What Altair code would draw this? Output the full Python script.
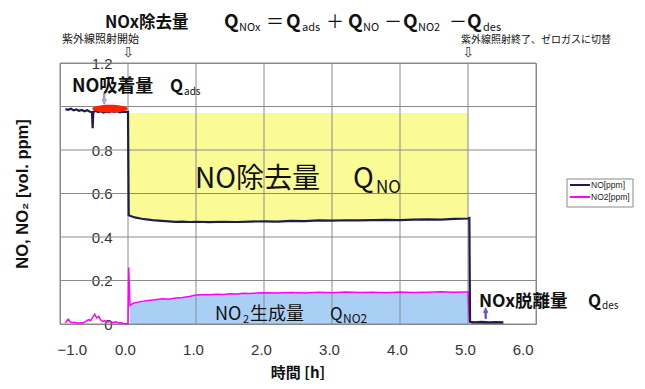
import altair as alt
import pandas as pd

# ---------------- data ----------------
no_t = [-0.92, -0.88, -0.84, -0.80, -0.76, -0.72, -0.68, -0.64, -0.60, -0.56,
        -0.53, -0.52, -0.51, -0.48, -0.44, -0.40, -0.36, -0.32, -0.28, -0.24,
        -0.20, -0.16, -0.12, -0.08, -0.04, 0.00, 0.01, 0.05, 0.10, 0.20,
        0.30, 0.40, 0.50, 0.60, 0.70, 0.80, 0.90, 1.00, 1.20, 1.40,
        1.60, 1.80, 2.00, 2.20, 2.40, 2.60, 2.80, 3.00, 3.20, 3.40,
        3.60, 3.80, 4.00, 4.20, 4.40, 4.60, 4.80, 5.00, 5.02, 5.03,
        5.10, 5.20, 5.30, 5.40, 5.52]
no_v = [0.988, 0.985, 0.990, 0.982, 0.986, 0.980, 0.984, 0.978, 0.983, 0.976,
        0.975, 0.900, 0.975, 0.980, 0.974, 0.978, 0.972, 0.976, 0.974, 0.978,
        0.975, 0.978, 0.973, 0.976, 0.975, 0.975, 0.500, 0.495, 0.490, 0.484,
        0.480, 0.476, 0.474, 0.472, 0.470, 0.471, 0.469, 0.470, 0.468, 0.470,
        0.469, 0.471, 0.472, 0.471, 0.474, 0.473, 0.476, 0.475, 0.477, 0.476,
        0.478, 0.479, 0.478, 0.480, 0.481, 0.480, 0.483, 0.485, 0.487, 0.010,
        0.008, 0.010, 0.008, 0.009, 0.008]

no2_t = [-0.92, -0.88, -0.85, -0.82, -0.78, -0.74, -0.70, -0.66, -0.62, -0.58,
         -0.55, -0.52, -0.49, -0.46, -0.43, -0.40, -0.37, -0.34, -0.30, -0.26,
         -0.22, -0.18, -0.14, -0.10, -0.06, -0.02, 0.00, 0.01, 0.03, 0.06,
         0.10, 0.15, 0.20, 0.30, 0.40, 0.50, 0.60, 0.70, 0.80, 0.90,
         1.00, 1.10, 1.20, 1.30, 1.40, 1.50, 1.60, 1.70, 1.80, 1.90,
         2.00, 2.20, 2.40, 2.60, 2.80, 3.00, 3.20, 3.40, 3.60, 3.80,
         4.00, 4.20, 4.40, 4.60, 4.80, 4.95, 5.00, 5.02, 5.06, 5.15,
         5.25, 5.35, 5.45, 5.52]
no2_v = [0.005, 0.022, 0.010, 0.006, 0.008, 0.004, 0.006, 0.005, 0.012, 0.020,
         0.015, 0.030, 0.045, 0.028, 0.035, 0.018, 0.012, 0.016, 0.008, 0.012,
         0.006, 0.010, 0.005, 0.006, 0.002, 0.001, 0.002, 0.260, 0.085, 0.092,
         0.098, 0.100, 0.104, 0.108, 0.112, 0.116, 0.114, 0.119, 0.122, 0.126,
         0.133, 0.135, 0.134, 0.137, 0.136, 0.139, 0.138, 0.141, 0.140, 0.143,
         0.144, 0.142, 0.145, 0.143, 0.146, 0.144, 0.147, 0.145, 0.146, 0.144,
         0.147, 0.145, 0.146, 0.148, 0.146, 0.147, 0.147, 0.010, 0.004, 0.006,
         0.004, 0.005, 0.004, 0.004]

x_ticks = [-1.0, 0.0, 1.0, 2.0, 3.0, 4.0, 5.0, 6.0]
y_ticks = [0.0, 0.2, 0.4, 0.6, 0.8, 1.0, 1.2]
series_names = ["NO[ppm]", "NO2[ppm]"]
series_colors = ["#1c1c52", "#ff00ff"]

uv_on, uv_off = 0.0, 5.0
removal_top = 0.97
ads_mark = [-0.265, 0.99]
ads_arrow = [-0.35, 1.035]
des_arrow = [5.26, 0.05]

assert len(no_t) == len(no_v) and len(no2_t) == len(no2_v)

JP = "Noto Sans CJK JP"
LAT = "Liberation Sans, Arial, DejaVu Sans"
GRID = "#8a8a8a"

no_df = pd.DataFrame({"t": no_t, "v": no_v, "series": series_names[0]})
no2_df = pd.DataFrame({"t": no2_t, "v": no2_v, "series": series_names[1]})
yellow_df = no_df[(no_df.t > uv_on) & (no_df.t <= uv_off)]
blue_df = no2_df[(no2_df.t >= 0.03) & (no2_df.t <= uv_off)]

xs = alt.Scale(domain=[-1, 6], nice=False)
ys = alt.Scale(domain=[0, 1.2], nice=False)
color = alt.Color("series:N", scale=alt.Scale(domain=series_names, range=series_colors),
                  legend=None)

x_enc = alt.X("t:Q", scale=xs,
              axis=alt.Axis(values=x_ticks, format=".1f", title=None, labelPadding=18,
                            labelOffset=-3))
# the 1.0 label is hidden under the NO trace / red marker in the reference
y_enc = alt.Y("v:Q", scale=ys,
              axis=alt.Axis(values=y_ticks, title=None, labelPadding=-52,
                            labelExpr="datum.value == 0 ? '0' : (datum.value == 1 ? '' : format(datum.value, '.1f'))"))

yellow = alt.Chart(yellow_df).mark_area(color="#fbfb96", opacity=1).encode(
    x=x_enc, y=y_enc, y2=alt.datum(removal_top))
blue = alt.Chart(blue_df).mark_area(color="#aacff5", opacity=1).encode(
    x=alt.X("t:Q", scale=xs), y=alt.Y("v:Q", scale=ys))

# grid lines drawn above the shaded areas
vgrid = alt.Chart(pd.DataFrame({"t": x_ticks})).mark_rule(color=GRID, strokeWidth=1).encode(
    x=alt.X("t:Q", scale=xs))
hgrid = alt.Chart(pd.DataFrame({"v": y_ticks})).mark_rule(color=GRID, strokeWidth=1).encode(
    y=alt.Y("v:Q", scale=ys))

no2_line = alt.Chart(no2_df).mark_line(strokeWidth=1.5).encode(
    x=alt.X("t:Q", scale=xs), y=alt.Y("v:Q", scale=ys), color=color)
no_line = alt.Chart(no_df).mark_line(strokeWidth=2.2).encode(
    x=alt.X("t:Q", scale=xs), y=alt.Y("v:Q", scale=ys), color=color)

dummy = pd.DataFrame({"k": [0]})
ellipse_path = "M -1 0 A 1 0.22 0 1 0 1 0 A 1 0.22 0 1 0 -1 0 Z"
ellipse = alt.Chart(dummy).mark_point(shape=ellipse_path, size=1250, filled=True,
                                      color="#ff2200", opacity=1).encode(
    x=alt.datum(ads_mark[0]), y=alt.datum(ads_mark[1]))
arrow1 = alt.Chart(dummy).mark_point(shape="arrow", angle=180, size=120, filled=True,
                                     fill="#b8b8ee", stroke="#6a6ab8", strokeWidth=0.6,
                                     opacity=1).encode(
    x=alt.datum(ads_arrow[0]), y=alt.datum(ads_arrow[1]))
arrow2 = alt.Chart(dummy).mark_point(shape="arrow", angle=0, size=120, filled=True,
                                     fill="#6262dc", stroke="#3a3aa0", strokeWidth=0.6,
                                     opacity=1).encode(
    x=alt.datum(des_arrow[0]), y=alt.datum(des_arrow[1]))


def txt(s, x, y, size, bold=False, font=JP, baseline="alphabetic", align="left",
        angle=0, col="#111111"):
    xe = x if not isinstance(x, (int, float)) else alt.value(x)
    ye = y if not isinstance(y, (int, float)) else alt.value(y)
    return alt.Chart(dummy).mark_text(
        text=s, fontSize=size, fontWeight="bold" if bold else "normal", font=font,
        baseline=baseline, align=align, angle=angle, color=col).encode(x=xe, y=ye)


texts = []
# top formula title
tb, sb = -35, -32
texts += [
    txt("NOx除去量", 45, tb, 16.5, True),
    txt("Q", 164, tb, 19, True), txt("NOx", 179, sb, 11),
    txt("＝", 206, tb, 18),
    txt("Q", 226, tb, 19, True), txt("ads", 242, sb, 11),
    txt("＋", 266, tb, 18),
    txt("Q", 288, tb, 19, True), txt("NO", 303, sb, 11),
    txt("－", 324, tb, 18),
    txt("Q", 343, tb, 19, True), txt("NO2", 358, sb, 11),
    txt("－", 389, tb, 18),
    txt("Q", 407, tb, 19, True), txt("des", 423, sb, 11),
]
# irradiation notes
texts += [
    txt("紫外線照射開始", 2, -23, 11, baseline="middle"),
    txt("紫外線照射終了、ゼロガスに切替", 401, -23, 10, baseline="middle"),
    txt("⇩", alt.datum(uv_on), -10, 14, font="DejaVu Sans", baseline="middle",
        align="center", col="#333333"),
    txt("⇩", alt.datum(uv_off), -10, 14, font="DejaVu Sans", baseline="middle",
        align="center", col="#333333"),
]
# NO adsorption
texts += [
    txt("NO吸着量", 12, 29, 18, True),
    txt("Q", 110, 29, 17, True), txt("ads", 124, 32, 10),
]
# NO removal
texts += [
    txt("NO除去量", 135, 125, 28),
    txt("Q", 293, 125, 28), txt("NO", 316, 130, 17),
]
# NO2 formation
texts += [
    txt("NO", 155, 257, 18), txt("2", 183, 260, 11), txt("生成量", 190, 257, 18),
    txt("Q", 270, 257, 17), txt("NO2", 283, 260, 12),
]
# NOx desorption
texts += [
    txt("NOx脱離量", 419, 244, 17.5, True),
    txt("Q", 528, 244, 17, True), txt("des", 542, 246, 10),
]
# axis titles
texts += [
    txt("時間 [h]", 238, 310, 15, True, baseline="middle", align="center"),
    txt("NO, NO₂ [vol. ppm]", -37, 131, 16.5, True, font=LAT, baseline="middle",
        align="center", angle=270),
]

# manual legend box
leg_box = alt.Chart(dummy).mark_rect(fill="white", stroke="#888888", strokeWidth=1).encode(
    x=alt.value(507), x2=alt.value(573), y=alt.value(116), y2=alt.value(144))
legend_layers = [leg_box]
for i, (nm, cl) in enumerate(zip(series_names, series_colors)):
    yy = 122 + 12 * i
    legend_layers.append(
        alt.Chart(dummy).mark_rule(color=cl, strokeWidth=2).encode(
            x=alt.value(510), x2=alt.value(530), y=alt.value(yy)))
    legend_layers.append(txt(nm, 531, yy, 8.5, font=LAT, baseline="middle", col="#222222"))

chart = alt.layer(yellow, blue, vgrid, hgrid, no2_line, no_line, ellipse, arrow1, arrow2,
                  *texts, *legend_layers).properties(
    width=476, height=261,
    autosize=alt.AutoSizeParams(type="none"),
    padding={"left": 52, "top": 55, "right": 100, "bottom": 56},
).configure_view(
    stroke="#888888", strokeWidth=1
).configure_axis(
    grid=False, domain=False, ticks=False,
    labelFont=LAT, labelFontSize=15, labelColor="#333333",
)

chart.save("out.html", embed_options={"renderer": "svg", "actions": False})
